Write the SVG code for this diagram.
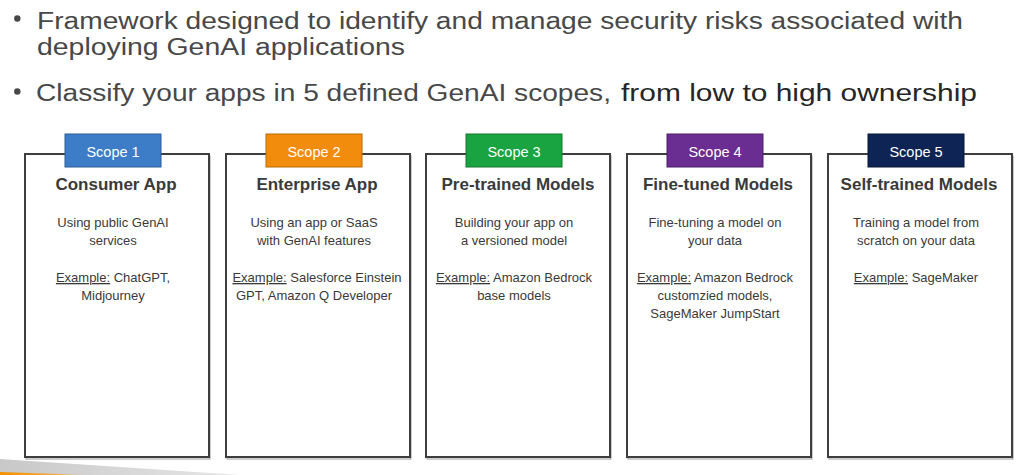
<svg xmlns="http://www.w3.org/2000/svg" width="1036" height="475" viewBox="0 0 1036 475">
<style>
.head{font-family:"Liberation Sans",Arial,sans-serif;font-size:23.5px;fill:#484848}
.head2{font-family:"Liberation Sans",Arial,sans-serif;font-size:23.5px;fill:#262626}
.box{fill:#fff;stroke:#3e3e3e;stroke-width:2}
.shadow{fill:none;stroke:#9a9a9a;stroke-width:1}
.tab{stroke-width:1}
.tabt{font-family:"Liberation Sans",Arial,sans-serif;font-size:14.5px;fill:#fff;text-anchor:middle}
.title{font-family:"Liberation Sans",Arial,sans-serif;font-size:17px;font-weight:bold;fill:#3a3a3a;text-anchor:middle}
.body{font-family:"Liberation Sans",Arial,sans-serif;font-size:13px;fill:#3a3a3a;text-anchor:middle}
.u{text-decoration:underline}
</style>
<defs>
<linearGradient id="gw" x1="0" y1="0" x2="1" y2="0">
<stop offset="0" stop-color="#c8c8c8"/>
<stop offset="1" stop-color="#e6e6e6"/>
</linearGradient>
<linearGradient id="go" x1="0" y1="0" x2="1" y2="0">
<stop offset="0" stop-color="#f29100"/>
<stop offset="0.6" stop-color="#f5a840"/>
<stop offset="1" stop-color="#f5a840" stop-opacity="0"/>
</linearGradient>
</defs>
<rect width="1036" height="475" fill="#fff"/>

<g id="header">
<circle cx="17.3" cy="18.5" r="3.2" fill="#484848"/>
<text class="head" x="37" y="28.5" textLength="926" lengthAdjust="spacingAndGlyphs">Framework designed to identify and manage security risks associated with</text>
<text class="head" x="37" y="55" textLength="368" lengthAdjust="spacingAndGlyphs">deploying GenAI applications</text>
<circle cx="17.3" cy="91.5" r="3.2" fill="#484848"/>
<text class="head" x="36" y="101" textLength="575" lengthAdjust="spacingAndGlyphs">Classify your apps in 5 defined GenAI scopes,</text>
<text class="head2" x="621" y="101" textLength="356" lengthAdjust="spacingAndGlyphs">from low to high ownership</text>
</g>

<g id="decor">
<polygon points="0,459 240,475 0,475" fill="url(#gw)"/>
<polygon points="0,472 90,475 0,475" fill="url(#go)"/>
</g>

<g id="scope1">
<rect class="shadow" x="26" y="156" width="184" height="303"/>
<rect class="box" x="25" y="154" width="184" height="303"/>
<rect class="tab" x="65" y="134" width="96" height="33" fill="#3d7dc8" stroke="#2b5d96"/>
<text class="tabt" x="113" y="157">Scope 1</text>
<text class="title" x="116" y="190">Consumer App</text>
<text class="body" x="113" y="227">Using public GenAI</text>
<text class="body" x="113" y="245">services</text>
<text class="body" x="113" y="282"><tspan class="u">Example:</tspan> ChatGPT,</text>
<text class="body" x="113" y="300">Midjourney</text>
</g>

<g id="scope2">
<rect class="shadow" x="227" y="156" width="184" height="303"/>
<rect class="box" x="226" y="154" width="184" height="303"/>
<rect class="tab" x="266" y="134" width="96" height="33" fill="#f28c0c" stroke="#b86a06"/>
<text class="tabt" x="314" y="157">Scope 2</text>
<text class="title" x="317" y="190">Enterprise App</text>
<text class="body" x="314" y="227">Using an app or SaaS</text>
<text class="body" x="314" y="245">with GenAI features</text>
<text class="body" x="317" y="282"><tspan class="u">Example:</tspan> Salesforce Einstein</text>
<text class="body" x="314" y="300">GPT, Amazon Q Developer</text>
</g>

<g id="scope3">
<rect class="shadow" x="427" y="156" width="184" height="303"/>
<rect class="box" x="426" y="154" width="184" height="303"/>
<rect class="tab" x="466" y="134" width="96" height="33" fill="#1aa341" stroke="#127a2f"/>
<text class="tabt" x="514" y="157">Scope 3</text>
<text class="title" x="518" y="190">Pre-trained Models</text>
<text class="body" x="514" y="227">Building your app on</text>
<text class="body" x="514" y="245">a versioned model</text>
<text class="body" x="514" y="282"><tspan class="u">Example:</tspan> Amazon Bedrock</text>
<text class="body" x="514" y="300">base models</text>
</g>

<g id="scope4">
<rect class="shadow" x="628" y="156" width="184" height="303"/>
<rect class="box" x="627" y="154" width="184" height="303"/>
<rect class="tab" x="667" y="134" width="96" height="33" fill="#6a2d91" stroke="#4a1f66"/>
<text class="tabt" x="715" y="157">Scope 4</text>
<text class="title" x="718" y="190">Fine-tuned Models</text>
<text class="body" x="715" y="227">Fine-tuning a model on</text>
<text class="body" x="715" y="245">your data</text>
<text class="body" x="715" y="282"><tspan class="u">Example:</tspan> Amazon Bedrock</text>
<text class="body" x="715" y="300">customzied models,</text>
<text class="body" x="715" y="318">SageMaker JumpStart</text>
</g>

<g id="scope5">
<rect class="shadow" x="829" y="156" width="184" height="303"/>
<rect class="box" x="828" y="154" width="184" height="303"/>
<rect class="tab" x="868" y="134" width="96" height="33" fill="#0e2455" stroke="#081636"/>
<text class="tabt" x="916" y="157">Scope 5</text>
<text class="title" x="919" y="190">Self-trained Models</text>
<text class="body" x="916" y="227">Training a model from</text>
<text class="body" x="916" y="245">scratch on your data</text>
<text class="body" x="916" y="282"><tspan class="u">Example:</tspan> SageMaker</text>
</g>
</svg>
